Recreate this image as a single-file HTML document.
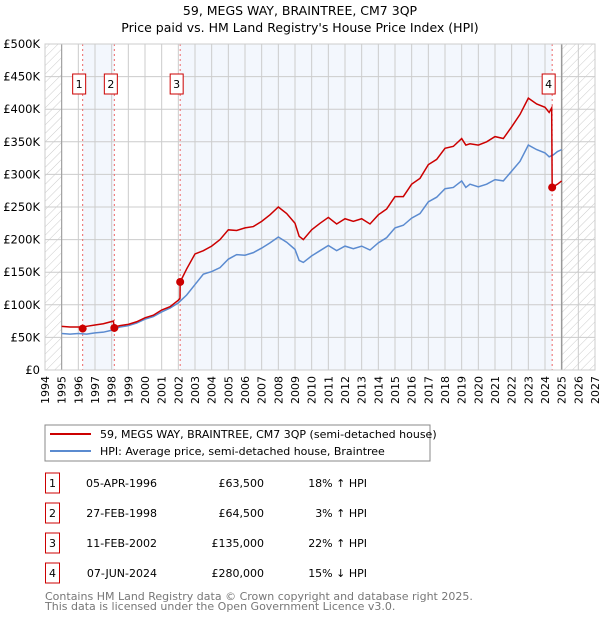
<!DOCTYPE html>
<html><head><meta charset="utf-8"><style>
body{margin:0;background:#fff;font-family:"DejaVu Sans","Liberation Sans",sans-serif;}
svg text{font-family:"DejaVu Sans","Liberation Sans",sans-serif;}
</style></head><body>
<svg width="600" height="620" xmlns="http://www.w3.org/2000/svg" id="chart">
<defs><pattern id="hatch" patternUnits="userSpaceOnUse" width="6" height="6" patternTransform="rotate(45)"><line x1="0" y1="0" x2="0" y2="6" stroke="#ccc" stroke-width="1"/></pattern></defs>
<text x="300" y="15" text-anchor="middle" font-size="12.5">59, MEGS WAY, BRAINTREE, CM7 3QP</text>
<text x="300" y="32" text-anchor="middle" font-size="12.5">Price paid vs. HM Land Registry's House Price Index (HPI)</text>
<g id="plot"></g>
<rect x="45" y="425" width="385" height="36" fill="#fff" stroke="#888"/>
<line x1="50" y1="434" x2="91" y2="434" stroke="#cc0000" stroke-width="2"/>
<text x="100" y="438" font-size="11">59, MEGS WAY, BRAINTREE, CM7 3QP (semi-detached house)</text>
<line x1="50" y1="451" x2="91" y2="451" stroke="#5b8bd0" stroke-width="2"/>
<text x="100" y="455" font-size="11">HPI: Average price, semi-detached house, Braintree</text>
<g id="table" font-size="11"></g>
<text x="45" y="600" font-size="11" fill="#777">Contains HM Land Registry data © Crown copyright and database right 2025.</text>
<text x="45" y="610" font-size="11" fill="#777">This data is licensed under the Open Government Licence v3.0.</text>
</svg>
<script>
const hpiT=[1995,1995.5,1996,1996.5,1997,1997.5,1998,1998.5,1999,1999.5,2000,2000.5,2001,2001.5,2002,2002.5,2003,2003.5,2004,2004.5,2005,2005.5,2006,2006.5,2007,2007.5,2008,2008.5,2009,2009.25,2009.5,2010,2010.5,2011,2011.5,2012,2012.5,2013,2013.5,2014,2014.5,2015,2015.5,2016,2016.5,2017,2017.5,2018,2018.5,2019,2019.25,2019.5,2020,2020.5,2021,2021.5,2022,2022.5,2023,2023.5,2024,2024.25,2024.5,2024.75,2025];
const hpiV=[56,55,56,55,57,58,61,66,68,72,78,82,89,95,103,115,131,147,151,157,170,177,176,180,187,195,204,196,185,168,165,175,183,191,183,190,186,190,184,195,203,218,222,233,240,258,265,278,280,290,280,285,281,285,292,290,305,320,345,338,333,327,330,335,338];
const redT=[1995,1995.5,1996,1996.26,1996.5,1997,1997.5,1998.1,1998.16,1998.5,1999,1999.5,2000,2000.5,2001,2001.5,2002,2002.1,2002.11,2002.5,2003,2003.5,2004,2004.5,2005,2005.5,2006,2006.5,2007,2007.5,2008,2008.5,2009,2009.25,2009.5,2010,2010.5,2011,2011.5,2012,2012.5,2013,2013.5,2014,2014.5,2015,2015.5,2016,2016.5,2017,2017.5,2018,2018.5,2019,2019.25,2019.5,2020,2020.5,2021,2021.5,2022,2022.5,2023,2023.5,2024,2024.25,2024.4,2024.43,2024.75,2025];
const redV=[67,66,66,66,67,69,71,75,66,68,70,74,80,84,92,97,107,110,135,155,178,183,190,200,215,214,218,220,228,238,250,240,225,205,200,215,225,234,224,232,228,232,224,238,247,266,266,285,294,315,323,340,343,355,345,347,345,350,358,355,373,392,417,408,403,395,402,280,285,290];
const saleT=[1996.26,1998.16,2002.11,2024.43];
const saleV=[63.5,64.5,135,280];
const saleLabels=["1","2","3","4"];
const saleDates=["05-APR-1996","27-FEB-1998","11-FEB-2002","07-JUN-2024"];
const salePrices=["£63,500","£64,500","£135,000","£280,000"];
const saleDiff=["18% ↑ HPI","3% ↑ HPI","22% ↑ HPI","15% ↓ HPI"];
const yTicks=[0,50,100,150,200,250,300,350,400,450,500];
const yTickLabels=["£0","£50K","£100K","£150K","£200K","£250K","£300K","£350K","£400K","£450K","£500K"];
const x0=45,x1=595,y0=370,y1=44;
const X=t=>x0+(t-1994)/(2027-1994)*(x1-x0);
const Y=v=>y0-(v/500)*(y0-y1);
const NS="http://www.w3.org/2000/svg";
const plot=document.getElementById('plot');
function mk(tag,attrs,parent){const e=document.createElementNS(NS,tag);for(const k in attrs)e.setAttribute(k,attrs[k]);(parent||plot).appendChild(e);return e;}
let e;
e=mk('rect',{x:X(saleT[0]),y:y1,width:X(saleT[1])-X(saleT[0]),height:y0-y1,fill:'#eef3fc',opacity:0.7});


e=mk('rect',{x:X(saleT[2]),y:y1,width:X(saleT[3])-X(saleT[2]),height:y0-y1,fill:'#eef3fc',opacity:0.7});


e=mk('rect',{x:x0,y:y1,width:X(1995)-x0,height:y0-y1,fill:'url(#hatch)'});


e=mk('rect',{x:X(2025),y:y1,width:x1-X(2025),height:y0-y1,fill:'url(#hatch)'});


for(let yr=1994;yr<=2027;yr++){
 e=mk('line',{x1:X(yr),x2:X(yr),y1:y1,y2:y0,stroke:'#ccc','stroke-width':1});
 
 
 e=mk('text',{x:0,y:0,'font-size':11,'text-anchor':'end',transform:`translate(${X(yr)+4},${y0+6}) rotate(-90)`});
 e.textContent=yr;
 
 
}
yTicks.forEach((v,i)=>{
 e=mk('line',{x1:x0,x2:x1,y1:Y(v),y2:Y(v),stroke:'#ccc','stroke-width':1});
 
 
 e=mk('text',{x:x0-5,y:Y(v)+4,'font-size':11.5,'text-anchor':'end'});
 e.textContent=yTickLabels[i];
 
 
});
e=mk('line',{x1:X(1995),x2:X(1995),y1:y1,y2:y0,stroke:'#999','stroke-width':1});


e=mk('line',{x1:X(2025),x2:X(2025),y1:y1,y2:y0,stroke:'#999','stroke-width':1.5});


saleT.forEach((t,i)=>{
 e=mk('line',{x1:X(t),x2:X(t),y1:y1,y2:y0,stroke:'#e66','stroke-width':1,'stroke-dasharray':'2,3'});
 
 
});
e=mk('polyline',{points:hpiT.map((t,i)=>X(t)+','+Y(hpiV[i])).join(' '),fill:'none',stroke:'#5b8bd0','stroke-width':1.5});


e=mk('polyline',{points:redT.map((t,i)=>X(t)+','+Y(redV[i])).join(' '),fill:'none',stroke:'#cc0000','stroke-width':1.5});


saleT.forEach((t,i)=>{
 e=mk('circle',{cx:X(t),cy:Y(saleV[i]),r:4,fill:'#cc0000'});
 
 
 const bx=X(t)-10;
 e=mk('rect',{x:bx,y:74,width:13,height:20,fill:'#fff',stroke:'#cc0000'});
 
 
 e=mk('text',{x:bx+6.5,y:88,'font-size':11,'text-anchor':'middle'});
 e.textContent=saleLabels[i];
 
 
});
e=mk('rect',{x:x0,y:y1,width:x1-x0,height:y0-y1,fill:'none',stroke:'#ccc'});


const tbl=document.getElementById('table');
saleLabels.forEach((l,i)=>{
 const cy=483+i*30;
 e=mk('rect',{x:45.5,y:cy-10,width:14,height:20,fill:'#fff',stroke:'#cc0000'},tbl);
 
 
 e=mk('text',{x:52.5,y:cy+4,'text-anchor':'middle'},tbl);e.textContent=l;
 
 
 e=mk('text',{x:157,y:cy+4,'text-anchor':'end'},tbl);e.textContent=saleDates[i];
 
 
 e=mk('text',{x:264,y:cy+4,'text-anchor':'end'},tbl);e.textContent=salePrices[i];
 
 
 e=mk('text',{x:367,y:cy+4,'text-anchor':'end'},tbl);e.textContent=saleDiff[i];
 
 
});
</script>
</body></html>
